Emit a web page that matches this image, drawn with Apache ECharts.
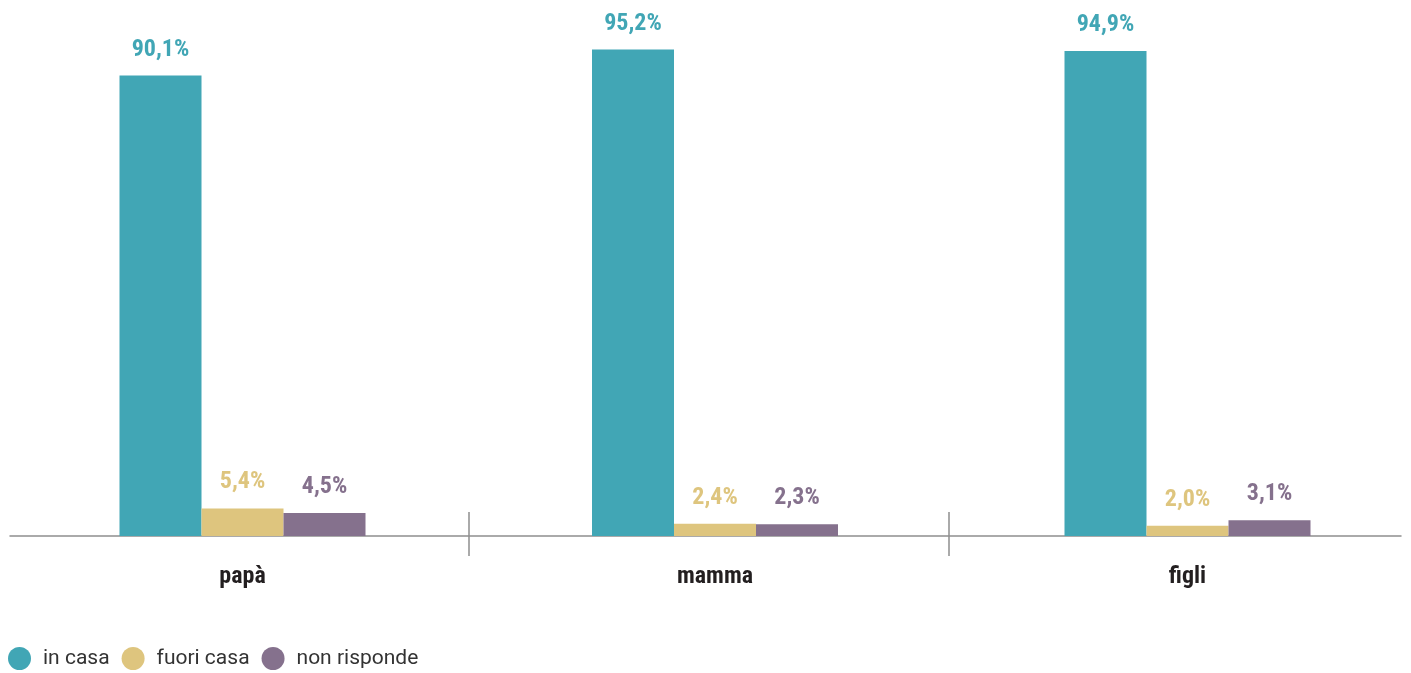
<!DOCTYPE html>
<html>
<head>
<meta charset="utf-8">
<script src="https://cdn.jsdelivr.net/npm/echarts@6/dist/echarts.min.js"></script>
<style>
html,body{margin:0;padding:0;background:#fff;}
#chart{width:1411px;height:673px;}
</style>
</head>
<body>
<div id="chart"></div>
<script>
const categories = ['papà', 'mamma', 'figli'];
const seriesNames = ['in casa', 'fuori casa', 'non risponde'];
const inCasa = [90.1, 95.2, 94.9];
const fuoriCasa = [5.4, 2.4, 2.0];
const nonRisponde = [4.5, 2.3, 3.1];
const colors = ['#41A6B5', '#DEC57E', '#85718D'];

const fmt = p => p.value.toFixed(1).replace('.', ',') + '%';
const labelFont = "'Roboto Condensed', Roboto, sans-serif";

function barSeries(name, data, color) {
  return {
    name: name,
    type: 'bar',
    xAxisIndex: 0,
    yAxisIndex: 0,
    data: data,
    barWidth: 82,
    barGap: '0%',
    itemStyle: { color: color },
    label: {
      show: true,
      position: 'top',
      distance: 14,
      formatter: fmt,
      color: color,
      fontFamily: labelFont,
      fontWeight: 'bold',
      fontSize: 24
    }
  };
}

const chart = echarts.init(document.getElementById('chart'), null, { renderer: 'canvas' });
chart.setOption({
  backgroundColor: '#ffffff',
  animation: false,
  grid: [
    { left: 6.25, width: 1417.5, top: 25, bottom: 137, outerBoundsMode: 'none' },
    { left: 10, right: 10, top: 25, bottom: 137, outerBoundsMode: 'none' },
    { left: 468.5, right: 462.5, top: 25, bottom: 137, outerBoundsMode: 'none' }
  ],
  legend: {
    left: 8,
    top: 647,
    padding: 0,
    itemWidth: 23,
    itemHeight: 23,
    itemGap: 12,
    icon: 'circle',
    data: seriesNames,
    textStyle: {
      fontFamily: 'Roboto, sans-serif',
      fontSize: 21,
      color: '#333333',
      padding: [0, 0, 0, 7]
    }
  },
  xAxis: [
    {
      type: 'category',
      gridIndex: 0,
      data: categories,
      axisLine: { show: false },
      axisTick: { show: false },
      axisLabel: {
        margin: 29,
        fontFamily: labelFont,
        fontWeight: 'bold',
        fontSize: 24,
        color: '#231F20'
      }
    },
    {
      type: 'value',
      gridIndex: 1,
      min: 0, max: 1,
      axisLine: { show: true, lineStyle: { color: '#8E8E8E', width: 1.5 } },
      axisTick: { show: false },
      axisLabel: { show: false },
      splitLine: { show: false }
    },
    {
      type: 'value',
      gridIndex: 2,
      position: 'bottom',
      min: 0, max: 1, interval: 1,
      axisLine: { show: false },
      axisTick: { show: true, length: 20, inside: false, lineStyle: { color: '#8E8E8E', width: 1.5 } },
      axisLabel: { show: false },
      splitLine: { show: false }
    },
    {
      type: 'value',
      gridIndex: 2,
      position: 'bottom',
      min: 0, max: 1, interval: 1,
      axisLine: { show: false },
      axisTick: { show: true, length: 24, inside: true, lineStyle: { color: '#8E8E8E', width: 1.5 } },
      axisLabel: { show: false },
      splitLine: { show: false }
    }
  ],
  yAxis: [
    { type: 'value', gridIndex: 0, min: 0, max: 100, show: false, splitLine: { show: false } },
    { type: 'value', gridIndex: 1, min: 0, max: 1, show: false, splitLine: { show: false } },
    { type: 'value', gridIndex: 2, min: 0, max: 1, show: false, splitLine: { show: false } }
  ],
  series: [
    barSeries(seriesNames[0], inCasa, colors[0]),
    barSeries(seriesNames[1], fuoriCasa, colors[1]),
    barSeries(seriesNames[2], nonRisponde, colors[2])
  ]
});
</script>
</body>
</html>
